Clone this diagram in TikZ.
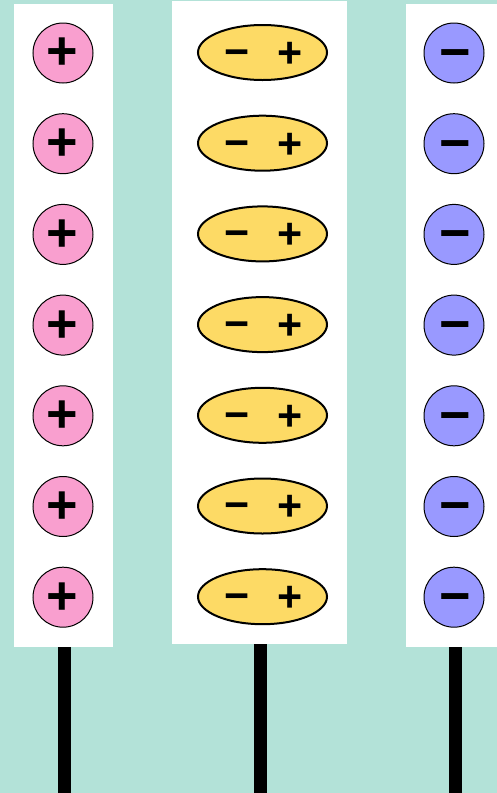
\documentclass[tikz,border=0pt]{standalone}
\usepackage{fontspec}
\setmainfont{Liberation Sans}
\usetikzlibrary{shapes.geometric}
\definecolor{bgteal}{HTML}{B3E2D8}
\definecolor{pinkion}{HTML}{F99FCF}
\definecolor{yellowdip}{HTML}{FDDA65}
\definecolor{blueion}{HTML}{9999FF}
\begin{document}
\begin{tikzpicture}[x=1pt,y=-1pt,
  panel/.style={fill=white,draw=none,inner sep=0pt,minimum height=643pt},
  pole/.style={line width=13pt},
  cation/.style={circle,draw=black,line width=1pt,fill=pinkion,minimum size=60pt,inner sep=0pt},
  anion/.style={circle,draw=black,line width=1pt,fill=blueion,minimum size=60pt,inner sep=0pt},
  dipole/.style={ellipse,draw=black,line width=2pt,fill=yellowdip,minimum width=129pt,minimum height=55pt,inner sep=0pt},
  bigsign/.style={inner sep=0pt,anchor=base,font=\bfseries\fontsize{54}{54}\selectfont},
  smallsign/.style={inner sep=0pt,anchor=base,font=\bfseries\fontsize{43}{43}\selectfont}]
\fill[bgteal] (0,0) rectangle (497,793);
\useasboundingbox (0,0) rectangle (497,793);
\node[panel,minimum width=99pt] (leftpanel) at (63.5,325.5) {};
\node[panel,minimum width=175pt] (midpanel) at (259.5,322.5) {};
\node[panel,minimum width=91pt] (rightpanel) at (451.5,325.5) {};
\coordinate (leftfoot) at (64.5,793);
\coordinate (midfoot) at (260.5,793);
\coordinate (rightfoot) at (455.5,793);
\draw[pole] (leftpanel.south -| leftfoot) -- (leftfoot);
\draw[pole] (midpanel.south -| midfoot) -- (midfoot);
\draw[pole] (rightpanel.south -| rightfoot) -- (rightfoot);
\foreach \i in {0,...,6}{
  \pgfmathsetmacro\yy{53+90.7*\i}
  \node[cation] (p\i) at (63,\yy) {};
  \node[bigsign] (ps\i) at (62,\yy-2+18.9) {+};
  \node[dipole] (e\i) at (262.5,\yy-0.5) {};
  \node[smallsign] (em\i) at (237.5,\yy-1.7+15) {−};
  \node[smallsign] (ep\i) at (290,\yy-0.7+15) {+};
  \node[anion] (n\i) at (454,\yy) {};
  \node[bigsign] (ns\i) at (455.5,\yy-1.5+18.9) {−};
}
\end{tikzpicture}
\end{document}
